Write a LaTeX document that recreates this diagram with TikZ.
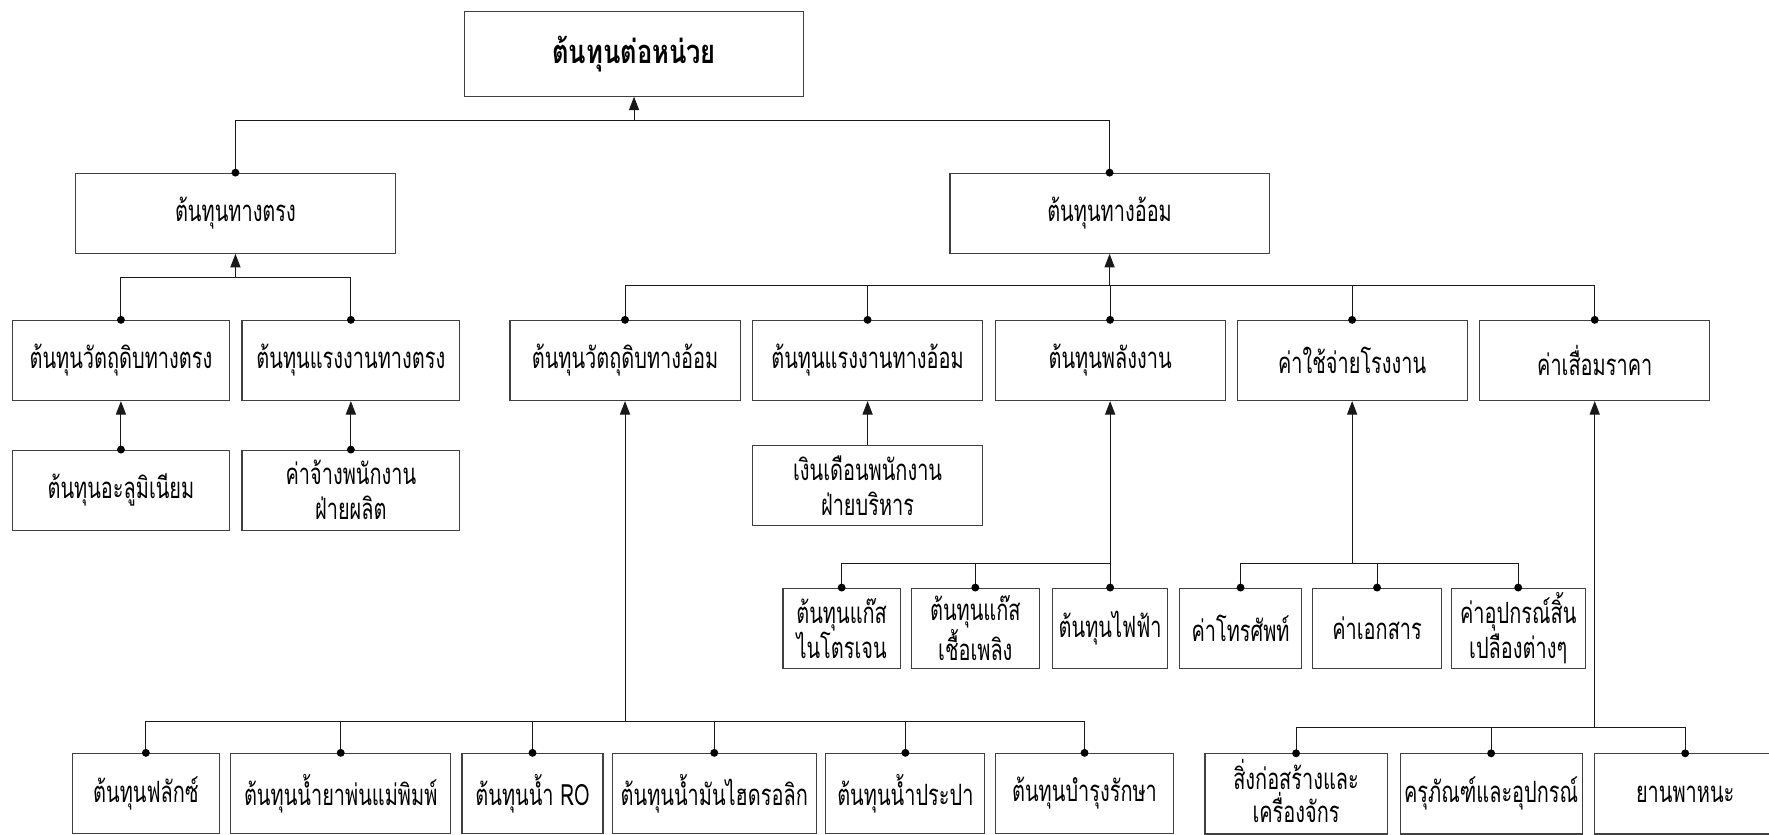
\documentclass[tikz,border=0pt]{standalone}
\usepackage{fontspec}
\setmainfont[Script=Thai,FakeStretch=0.68]{Loma}
\newfontfamily\headfont[Script=Thai,FakeStretch=0.78]{Loma}
\usetikzlibrary{arrows.meta}
\begin{document}
\begin{tikzpicture}[x=1pt,y=-1pt,
  box/.style={draw=black!75, line width=1pt, rectangle, inner sep=0pt,
    align=center, font=\fontsize{26}{31}\selectfont, minimum height=71pt},
  wire/.style={draw=black!90, line width=0.9pt},
  up/.style={wire, -{Triangle[width=9pt,length=12pt]}},
  joint/.style={fill=black},
]
\useasboundingbox (0,0) rectangle (1568,740);

% ---- top level
\node[box, minimum width=300pt, minimum height=75pt,
      font=\headfont\bfseries\fontsize{29}{31}\selectfont] (root) at (562,47.7) {ต้นทุนต่อหน่วย};

% ---- direct / indirect cost
\node[box, minimum width=283pt] (dir) at (208.7,189) {ต้นทุนทางตรง};
\node[box, minimum width=283pt] (ind) at (983.5,189) {ต้นทุนทางอ้อม};

% ---- direct cost branch
\node[box, minimum width=193pt] (dmat) at (107.2,319.5) {ต้นทุนวัตถุดิบทางตรง};
\node[box, minimum width=193pt] (dlab) at (311,319.5) {ต้นทุนแรงงานทางตรง};
\node[box, minimum width=193pt] (alu)  at (107.2,434.5) {ต้นทุนอะลูมิเนียม};
\node[box, minimum width=193pt] (wage) at (311,434.5) {ค่าจ้างพนักงาน\\ฝ่ายผลิต};

% ---- indirect cost branch
\node[box, minimum width=204pt] (imat)    at (554,319.5)    {ต้นทุนวัตถุดิบทางอ้อม};
\node[box, minimum width=204pt] (ilab)    at (769,319.5)    {ต้นทุนแรงงานทางอ้อม};
\node[box, minimum width=204pt] (energy)  at (984,319.5)    {ต้นทุนพลังงาน};
\node[box, minimum width=204pt] (factory) at (1198.5,319.5) {ค่าใช้จ่ายโรงงาน};
\node[box, minimum width=204pt] (depr)    at (1413.5,319.5) {ค่าเสื่อมราคา};

\node[box, minimum width=204pt, minimum height=71.5pt] (salary) at (769,430.3) {เงินเดือนพนักงาน\\ฝ่ายบริหาร};

% energy items
\node[box, minimum width=104pt] (nitro) at (746,556.8)   {ต้นทุนแก๊ส\\ไนโตรเจน};
\node[box, minimum width=113pt] (fuel)  at (864.5,556.8) {ต้นทุนแก๊ส\\เชื้อเพลิง};
\node[box, minimum width=102pt] (elec)  at (984,556.8)   {ต้นทุนไฟฟ้า};

% factory overhead items
\node[box, minimum width=108pt] (phone) at (1099.6,556.8) {ค่าโทรศัพท์};
\node[box, minimum width=114pt] (docs)  at (1220.6,556.8) {ค่าเอกสาร};
\node[box, minimum width=119pt] (supp)  at (1345.7,556.8) {ค่าอุปกรณ์สิ้น\\เปลืองต่างๆ};

% indirect material items
\node[box, minimum width=130pt] (flux)  at (129.3,703.3) {ต้นทุนฟลักซ์};
\node[box, minimum width=195pt] (spray) at (302,703.3)   {ต้นทุนน้ำยาพ่นแม่พิมพ์};
\node[box, minimum width=125pt] (ro)    at (472,703.3)   {ต้นทุนน้ำ RO};
\node[box, minimum width=181pt] (hyd)   at (633.1,703.3) {ต้นทุนน้ำมันไฮดรอลิก};
\node[box, minimum width=141pt] (tap)   at (802.5,703.3) {ต้นทุนน้ำประปา};
\node[box, minimum width=158pt] (maint) at (961.3,703.3) {ต้นทุนบำรุงรักษา};

% depreciation items
\node[box, minimum width=161.5pt, text depth=5pt] (bldg) at (1148.8,703.7) {สิ่งก่อสร้างและ\\[-2pt]เครื่องจักร};
\node[box, minimum width=161.3pt] (furn) at (1321.7,703.7) {ครุภัณฑ์และอุปกรณ์};
\node[box, minimum width=161pt]   (veh)  at (1493.7,703.7) {ยานพาหนะ};

% ---- bus levels
\coordinate (y0) at (0,106.4);
\coordinate (y1) at (0,246);
\coordinate (y2) at (0,253);
\coordinate (y3) at (0,499.2);
\coordinate (y4) at (0,639.5);
\coordinate (y5) at (0,644.8);

\coordinate (b0) at (root.south |- y0);
\coordinate (b1) at (dir.south |- y1);
\coordinate (b2) at (ind.south |- y2);
\coordinate (b3) at (energy.south |- y3);
\coordinate (b4) at (factory.south |- y3);
\coordinate (b5) at (imat.south |- y4);
\coordinate (b6) at (depr.south |- y5);

% trunks with arrow heads into the parent
\draw[up] (b0) -- (root.south);
\draw[up] (b1) -- (dir.south);
\draw[up] (b2) -- (ind.south);
\draw[up] (b3) -- (energy.south);
\draw[up] (b4) -- (factory.south);
\draw[up] (b5) -- (imat.south);
\draw[up] (b6) -- (depr.south);
\draw[up] (alu.north) -- (dmat.south);
\draw[up] (wage.north) -- (dlab.south);
\draw[up] (salary.north) -- (ilab.south);

% branches from each child to its bus
\foreach \c in {dir,ind} \draw[wire] (\c.north) |- (b0);
\foreach \c in {dmat,dlab} \draw[wire] (\c.north) |- (b1);
\foreach \c in {imat,ilab,energy,factory,depr} \draw[wire] (\c.north) |- (b2);
\foreach \c in {nitro,fuel,elec} \draw[wire] (\c.north) |- (b3);
\foreach \c in {phone,docs,supp} \draw[wire] (\c.north) |- (b4);
\foreach \c in {flux,spray,ro,hyd,tap,maint} \draw[wire] (\c.north) |- (b5);
\foreach \c in {bldg,furn,veh} \draw[wire] (\c.north) |- (b6);

% joint dots on the child boxes
\foreach \c in {dir,ind,dmat,dlab,alu,wage,imat,ilab,energy,factory,depr,
                nitro,fuel,elec,phone,docs,supp,
                flux,spray,ro,hyd,tap,maint,bldg,furn,veh}
  \fill[joint] (\c.north) circle (3.5pt);
\end{tikzpicture}
\end{document}
